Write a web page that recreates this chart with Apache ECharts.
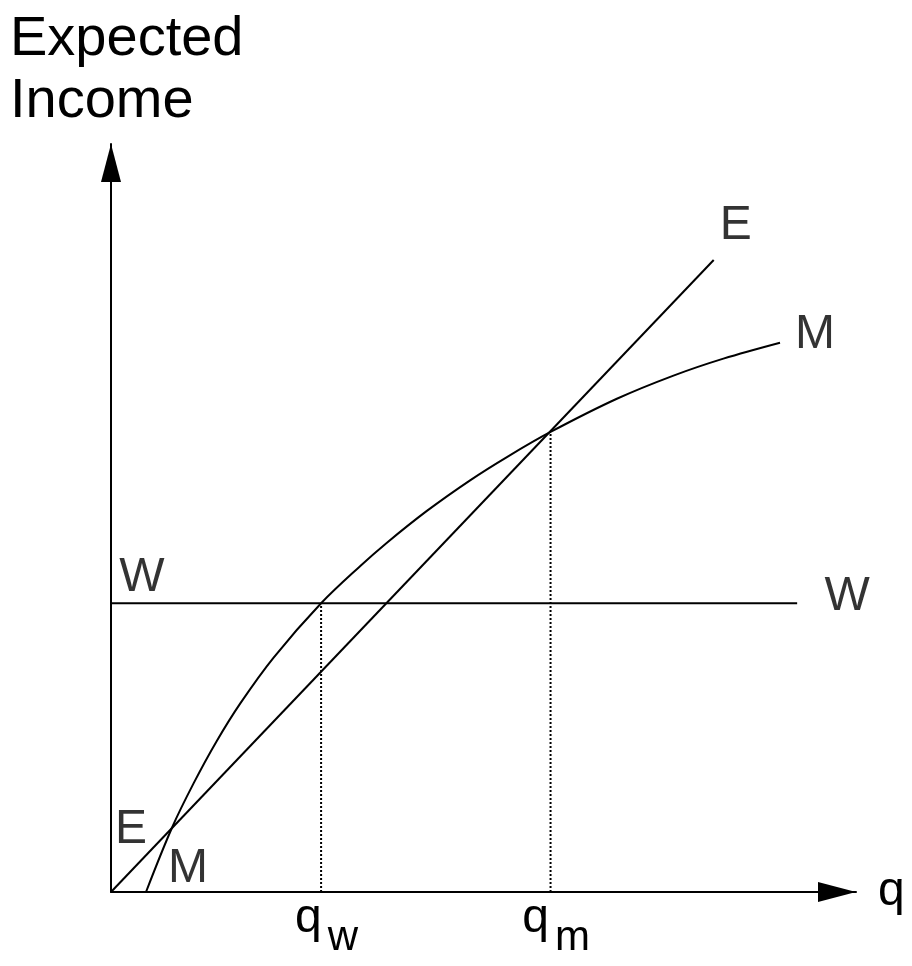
<!DOCTYPE html>
<html>
<head>
<meta charset="utf-8">
<script src="https://cdn.jsdelivr.net/npm/echarts@6/dist/echarts.min.js"></script>
<style>
  html, body { margin: 0; padding: 0; background: #fff; }
  #chart { width: 912px; height: 966px; }
</style>
</head>
<body>
<div id="chart"></div>
<script>
// values (q on x, expected income on y, both 0..10)
const eLineX = [0, 8.09]
const eLineY = [0, 8.45]
const wLevel = 3.86
const wLineX = [0, 9.21]
const mCurveX = [0.47, 0.82, 1.11, 1.42, 1.74, 2.18, 2.82, 3.35, 3.70, 4.24, 4.82, 5.32, 5.90, 6.79, 7.55, 8.22, 8.98]
const mCurveY = [0, 0.862, 1.455, 2.019, 2.528, 3.131, 3.86, 4.362, 4.667, 5.095, 5.504, 5.818, 6.15, 6.594, 6.904, 7.131, 7.344]
const qTicks = [2.82, 5.90]
const qSubs = ['w', 'm']
const dropTops = [3.86, 6.15]

const FONT = 'Liberation Sans, Arial, sans-serif'
const BLACK = '#000'

const chart = echarts.init(document.getElementById('chart'))

const pairs = (xs, ys) => xs.map((x, i) => [x, ys[i]])
const last = arr => arr[arr.length - 1]

const lineBase = {
  type: 'line',
  showSymbol: false,
  silent: true,
  lineStyle: { color: BLACK, width: 2 },
}

const option = {
  animation: false,
  backgroundColor: '#fff',
  title: {
    text: 'Expected\nIncome',
    left: 10,
    top: 9,
    padding: 0,
    textStyle: { fontFamily: FONT, fontSize: 56, fontWeight: 'normal', lineHeight: 62, color: BLACK },
  },
  grid: { left: 111, right: 56, top: 144, bottom: 74 },
  xAxis: {
    type: 'value',
    min: 0,
    max: 10,
    name: 'q',
    nameLocation: 'end',
    nameGap: 22,
    nameTextStyle: { fontFamily: FONT, fontSize: 48, color: BLACK, padding: [0, 0, 7, 0] },
    axisLine: {
      lineStyle: { color: BLACK, width: 2 },
      symbol: ['none', 'triangle'],
      symbolSize: [20, 38],
      symbolOffset: [0, -19],
    },
    axisTick: { show: false },
    splitLine: { show: false },
    axisLabel: {
      customValues: qTicks,
      margin: 3,
      padding: [0, 0, 0, 11],
      formatter: (v) => {
        const i = qTicks.findIndex(t => Math.abs(t - v) < 1e-6)
        return i < 0 ? '' : '{q|q}{s|' + qSubs[i] + '}'
      },
      rich: {
        q: { fontFamily: FONT, fontSize: 48, lineHeight: 48, color: BLACK, verticalAlign: 'top' },
        s: { fontFamily: FONT, fontSize: 42, lineHeight: 48, color: BLACK, verticalAlign: 'top', padding: [22, 0, 0, 6] },
      },
    },
  },
  yAxis: {
    type: 'value',
    min: 0,
    max: 10,
    axisLine: {
      lineStyle: { color: BLACK, width: 2 },
      symbol: ['none', 'triangle'],
      symbolSize: [20, 38],
      symbolOffset: [0, -19],
    },
    axisTick: { show: false },
    axisLabel: { show: false },
    splitLine: { show: false },
  },
  series: [
    { ...lineBase, name: 'W', data: wLineX.map(x => [x, wLevel]) },
    { ...lineBase, name: 'E', data: pairs(eLineX, eLineY) },
    { ...lineBase, name: 'M', data: pairs(mCurveX, mCurveY), smooth: 0.35 },
    ...qTicks.map((q, i) => ({
      ...lineBase,
      name: 'drop' + i,
      data: [[q, 0], [q, dropTops[i]]],
      lineStyle: { color: BLACK, width: 2, type: [2, 2] },
    })),
    {
      type: 'scatter',
      name: 'labels',
      silent: true,
      symbolSize: 1,
      itemStyle: { color: 'rgba(0,0,0,0)' },
      label: {
        show: true,
        position: 'inside',
        formatter: p => p.name,
        fontFamily: FONT,
        fontSize: 48,
        color: BLACK,
        textBorderWidth: 0,
        align: 'center',
        verticalAlign: 'middle',
      },
      data: [
        { name: 'E', value: [last(eLineX), last(eLineY)], label: { offset: [22, -34] } },
        { name: 'M', value: [last(mCurveX), last(mCurveY)], label: { offset: [35, -8] } },
        { name: 'W', value: [last(wLineX), wLevel], label: { offset: [50, -7] } },
        { name: 'W', value: [wLineX[0], wLevel], label: { offset: [31, -26] } },
        { name: 'E', value: [eLineX[0], eLineY[0]], label: { offset: [20, -62] } },
        { name: 'M', value: [mCurveX[0], mCurveY[0]], label: { offset: [42, -23] } },
      ],
    },
  ],
}

chart.setOption(option)
</script>
</body>
</html>
